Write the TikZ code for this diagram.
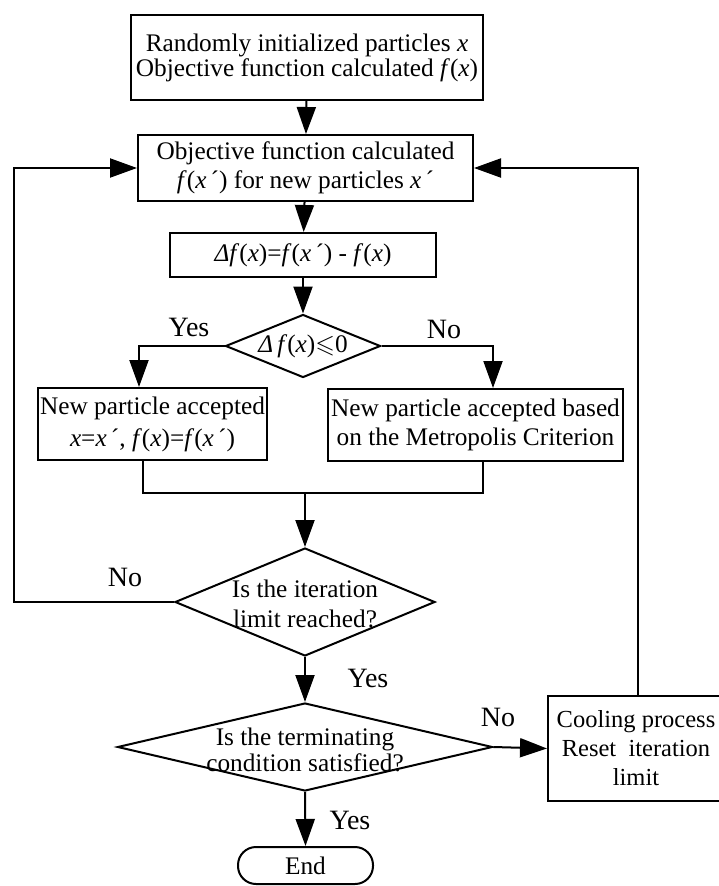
\documentclass[tikz,border=0pt]{standalone}
\usepackage{fontspec}
\setmainfont{Liberation Serif}
\usepackage{amssymb}
\usetikzlibrary{shapes.geometric,arrows.meta}

\begin{document}
\begin{tikzpicture}[x=1pt,y=-1pt,
  every node/.style={font=\fontsize{25.3}{29}\selectfont},
  box/.style={draw, line width=2pt, inner sep=0pt, align=center},
  dec/.style={draw, diamond, line width=2pt, inner sep=0pt},
  term/.style={draw, line width=2pt, rounded corners=18pt, inner sep=0pt},
  lab/.style={font=\fontsize{28}{30}\selectfont},
  link/.style={line width=2pt},
  arr/.style={link, -{Triangle[length=27pt,width=19pt]}}]
\useasboundingbox (0,0) rectangle (718,886);

% process boxes
\node[box, minimum width=352pt, minimum height=85pt, font=\fontsize{25.3}{25}\selectfont] (init) at (307,57.5)
  {Randomly initialized particles \textit{x}\\Objective function calculated \textit{f}(\textit{x})};
\node[box, minimum width=335pt, minimum height=66pt] (eval) at (305.5,168)
  {Objective function calculated\\\textit{f}(\textit{x}\,´) for new particles \textit{x}\,´};
\node[box, minimum width=266pt, minimum height=44pt] (delta) at (303,255)
  {\textit{Δf}(\textit{x})=\textit{f}(\textit{x}\,´) - \textit{f}(\textit{x})};

% first decision
\node[dec, minimum width=155pt, minimum height=63pt] (d1) at (303,346) {};
\node (d1t) at (303,346) {\textit{Δ\,f}(\textit{x})$\leqslant$0};

\node[box, minimum width=229pt, minimum height=72pt, font=\fontsize{25.3}{32}\selectfont] (acc) at (152.5,424)
  {New particle accepted\\\textit{x}=\textit{x}\,´, \textit{f}(\textit{x})=\textit{f}(\textit{x}\,´)};
\node[box, minimum width=295pt, minimum height=72pt] (metro) at (475.5,425)
  {New particle accepted based\\on the Metropolis Criterion};

% second and third decisions
\node[dec, minimum width=260pt, minimum height=108pt] (d2) at (305,602) {};
\node[align=center, font=\fontsize{25.3}{30}\selectfont] (d2t) at (305,604) {Is the iteration\\limit reached?};
\node[dec, minimum width=375pt, minimum height=88pt] (d3) at (305,747) {};
\node[align=center, font=\fontsize{25.3}{26}\selectfont] (d3t) at (305,750) {Is the terminating\\condition satisfied?};

\node[box, minimum width=176pt, minimum height=105pt, font=\fontsize{24.5}{29}\selectfont] (cool) at (636,748.5)
  {Cooling process\\Reset\ \ iteration\\limit};
\node[term, minimum width=135pt, minimum height=37pt] (stop) at (305.5,865.5) {End};

% branch labels
\node[lab] (yes1) at (189,327) {Yes};
\node[lab] (no1) at (444,329) {No};
\node[lab] (no2) at (125,577) {No};
\node[lab] (yes2) at (368,678) {Yes};
\node[lab] (no3) at (498,717) {No};
\node[lab] (yes3) at (350,820) {Yes};

% connectors
\draw[arr] (init) -- (eval);
\draw[arr] (eval) -- (delta);
\draw[arr] (delta.south) -- (d1.north);
\draw[arr] (d1.west) -| ([xshift=-13.5pt]acc.north);
\draw[arr] (d1.east) -| ([xshift=17.5pt]metro.north);
\coordinate (merge) at (305,493);
\draw[link] ([xshift=-9.5pt]acc.south) |- (merge) -| ([xshift=7.5pt]metro.south);
\draw[arr] (merge) -- (d2.north);
\coordinate (loopL) at (14,168);
\draw[arr] (d2.west) -| (loopL) -- (eval.west);
\draw[arr] (d2.south) -- (d3.north);
\draw[arr] (d3.east) -- (cool.west);
\draw[arr] ([xshift=2pt]cool.north) |- (eval.east);
\draw[arr] (d3.south) -- (stop.north);
\end{tikzpicture}
\end{document}
